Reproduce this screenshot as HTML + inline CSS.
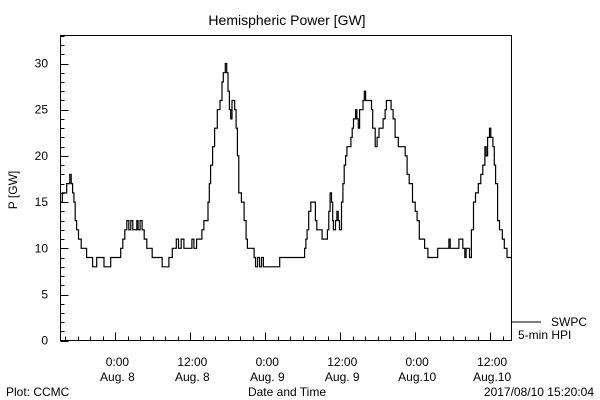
<!DOCTYPE html>
<html><head><meta charset="utf-8"><style>
html,body{margin:0;padding:0;background:#fff;}
svg{display:block;font-family:"Liberation Sans",sans-serif;}
</style></head><body>
<svg id="chart" width="600" height="400" viewBox="0 0 600 400" xmlns="http://www.w3.org/2000/svg">
<rect x="0" y="0" width="600" height="400" fill="#fff"/>
<text x="287" y="25" font-size="14" text-anchor="middle">Hemispheric Power [GW]</text>
<text x="0" y="0" font-size="12" text-anchor="middle" transform="translate(17,190) rotate(-90)">P [GW]</text>
<text x="287" y="396" font-size="12" text-anchor="middle">Date and Time</text>
<text x="6" y="396" font-size="12">Plot: CCMC</text>
<text x="594" y="396" font-size="12" text-anchor="end">2017/08/10 15:20:04</text>
<line x1="512" y1="322" x2="541" y2="322" stroke="#000" stroke-width="1"/>
<text x="551" y="326" font-size="12">SWPC</text>
<text x="518" y="339" font-size="12">5-min HPI</text>
<g id="ticks"></g>
<g id="plot"></g>
<rect x="60.5" y="35.5" width="451" height="305" fill="none" stroke="#000" stroke-width="1"/>
</svg>
<script>
const times = [-8.8,-8.5,-8.15,-7.8,-7.3,-7.08,-6.86,-6.65,-6.43,-6.22,-5.9,-5.47,-4.61,-3.65,-3.0,-1.82,-0.75,0.85,1.18,1.5,1.82,2.14,2.46,2.78,3.43,3.64,3.96,4.28,4.61,5.03,5.89,7.5,8.57,9.11,9.75,10.1,10.53,10.96,12.25,12.57,13.0,13.85,14.17,14.5,14.82,15.03,15.24,15.57,15.89,16.32,16.75,17.07,17.28,17.6,17.82,18.03,18.25,18.46,18.67,19.1,19.32,19.53,19.75,20.18,20.6,20.92,21.14,22.2,22.43,22.75,23.07,23.4,23.7,26.3,30.3,30.5,30.7,30.95,31.28,32.03,32.24,33.1,33.95,34.17,34.38,34.6,34.8,34.9,35.24,35.46,35.67,35.88,36.2,36.42,36.63,36.85,37.06,37.7,37.92,38.13,38.46,38.67,38.89,39.1,39.64,39.85,40.06,41.0,41.2,41.6,41.9,42.2,42.86,43.18,43.39,44.14,44.47,44.79,45.3,46.4,46.7,47.04,47.57,48.0,48.3,48.65,49.5,50.04,51.6,53.4,53.6,55.0,55.62,55.94,56.15,56.7,57.0,57.33,57.66,58.1,58.5,58.83,59.16,59.37,59.59,59.9,60.1,60.44,60.66,60.87,61.19,61.5,61.94,62.27,62.7,63.4];
const values = [15,16,16,17,18,17,16,15,13,12,11,10,9,8,9,8,9,10,11,12,13,12,13,12,13,12,13,12,11,10,9,8,9,10,11,10,11,10,11,10,11,12,13,13.4,15,17,19,21,23,25,26,28,29,30,29,27,25,24,26,25,23,20,16,15,13,11,10,9,8,9,8,9,8,9,10,11,12,14,15,13,12,11,12,14,16,15,13,12,13,14,13,12,15,17,18.5,20,21,22,23,24,25,24,23,25,26,27,26,25,23,21,22,23,24,25,26,25,24,22,21,20,18,17,15,14,13,11,10,9,10,11,10,11,10,9,10,9,12,15,16,17,18,19,21,20,22,23,22,21,19,17,13,12,11,10,9,9];
const yTicks = [0,5,10,15,20,25,30];
const xTickHours = [0,12,24,36,48,60];
const xTickLines1 = ["0:00","12:00","0:00","12:00","0:00","12:00"];
const xTickLines2 = ["Aug. 8","Aug. 8","Aug. 9","Aug. 9","Aug.10","Aug.10"];

const NS="http://www.w3.org/2000/svg";
const X0=60.5,X1=511.5,Y0=340.7,YT=35.5;
const tMin=-8.79,tMax=63.42,vMax=(Y0-YT)/9.24;
function xs(t){return X0+(t-tMin)/(tMax-tMin)*(X1-X0);}
function ys(v){return Y0-v*9.24;}
const tk=document.getElementById('ticks');
function ln(x1,y1,x2,y2,name){const l=document.createElementNS(NS,'line');
l.setAttribute('x1',x1);l.setAttribute('y1',y1);l.setAttribute('x2',x2);l.setAttribute('y2',y2);
l.setAttribute('stroke','#000');l.setAttribute('stroke-width','1');


tk.appendChild(l);}
for(let v=0;v<=33;v++){const y=Math.round(ys(v))+0.5;const big=v%5===0;ln(X0,y,X0+(big?8:4),y,'y-tick');ln(X0-(big?0:0),y,X0,y,'y-tick-stub');}
yTicks.forEach(v=>{const t=document.createElementNS(NS,'text');t.setAttribute('x',48);t.setAttribute('y',ys(v)+4);t.setAttribute('font-size','12');t.setAttribute('text-anchor','end');t.textContent=v;


tk.appendChild(t);});
for(let h=-8;h<=63;h+=2){const x=Math.round(xs(h))+0.5;const big=h%12===0;ln(x,340.5,x,340.5-(big?8:4),'x-tick');}
xTickHours.forEach((h,i)=>{[xTickLines1[i],xTickLines2[i]].forEach((s,j)=>{const t=document.createElementNS(NS,'text');t.setAttribute('x',xs(h)+2);t.setAttribute('y',j?381:366);t.setAttribute('font-size','12');t.setAttribute('text-anchor','middle');t.textContent=s;


tk.appendChild(t);});});
let d='';
for(let i=0;i<times.length;i++){const x=xs(times[i]).toFixed(1),y=ys(Math.round(values[i])).toFixed(1);
if(i===0)d+='M'+x+' '+y;else d+=' L'+x+' '+ys(Math.round(values[i-1])).toFixed(1)+' L'+x+' '+y;}
const p=document.createElementNS(NS,'path');p.setAttribute('d',d);p.setAttribute('fill','none');p.setAttribute('stroke','#000');p.setAttribute('stroke-width','1.2');


document.getElementById('plot').appendChild(p);
</script>
</body></html>
